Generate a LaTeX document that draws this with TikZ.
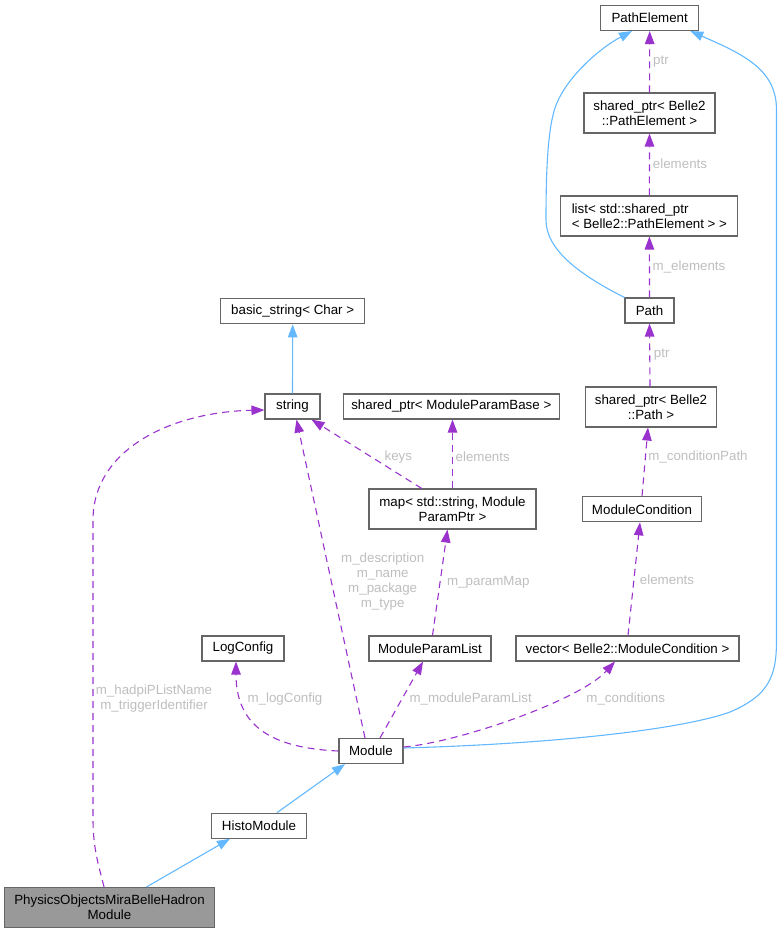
\documentclass[tikz,border=0pt]{standalone}
\usepackage{fontspec}
\setmainfont{Liberation Sans}
\usetikzlibrary{arrows.meta}
\definecolor{inhc}{HTML}{63B8FF}
\definecolor{usec}{HTML}{9A32CD}
\definecolor{nbc}{HTML}{666666}
\definecolor{labc}{HTML}{BEBEBE}
\definecolor{pfill}{HTML}{999999}
\begin{document}
\begin{tikzpicture}[x=1pt,y=-1pt,
  cls/.style={draw=nbc, line width=1.1pt, fill=white, font=\fontsize{13.33}{15}\selectfont, inner sep=0pt, align=center, minimum height=25pt},
  cls2/.style={cls, minimum height=40pt},
  lbl/.style={text=labc, font=\fontsize{13.33}{15}\selectfont, align=center, inner sep=0pt},
  inhedge/.style={draw=inhc, line width=1.1pt, -{Triangle[length=13pt,width=9.5pt]}},
  useedge/.style={draw=usec, line width=1.1pt, dash pattern=on 7pt off 5pt, -{Triangle[length=13pt,width=9.5pt]}}]
\useasboundingbox (0,0) rectangle (782,933);
% nodes
\node[cls, minimum width=98pt] (PE) at (649.7,18) {PathElement};
\node[cls2, minimum width=131pt] (spPE) at (649.5,113) {shared\_ptr< Belle2\\::PathElement >};
\node[cls2, minimum width=177pt, align=left] (list) at (649.4,216) {list< std::shared\_ptr\\< Belle2::PathElement > >};
\node[cls, minimum width=49pt] (Path) at (649.5,310.5) {Path};
\node[cls2, minimum width=131pt] (spPath) at (651,407) {shared\_ptr< Belle2\\::Path >};
\node[cls, minimum width=119pt] (MC) at (642,509.3) {ModuleCondition};
\node[cls, minimum width=223pt] (vec) at (627.5,648.5) {vector< Belle2::ModuleCondition >};
\node[cls, minimum width=144pt] (bstr) at (292.7,311.3) {basic\_string< Char >};
\node[cls, minimum width=55pt] (str) at (292.5,406.5) {string};
\node[cls, minimum width=216pt] (spMPB) at (451.3,406.5) {shared\_ptr< ModuleParamBase >};
\node[cls2, minimum width=167pt] (map) at (452.5,509) {map< std::string, Module\\ParamPtr >};
\node[cls, minimum width=82pt] (LC) at (243,648.5) {LogConfig};
\node[cls, minimum width=122pt] (MPL) at (430,648.5) {ModuleParamList};
\node[cls, minimum width=64pt] (Mod) at (371,751) {Module};
\node[cls, minimum width=95pt] (Histo) at (259,825.7) {HistoModule};
\node[cls2, minimum width=210pt, fill=pfill] (Phys) at (109.5,907.5) {PhysicsObjectsMiraBelleHadron\\Module};
% inheritance edges
\draw[inhedge] (str.north) -- (bstr.south);
\draw[inhedge] (Histo.north) ++(18,0) -- ([xshift=-26pt]Mod.south);
\draw[inhedge] ([xshift=37pt]Phys.north) -- ([xshift=-29pt]Histo.south);
\draw[inhedge] (Path.north west) .. controls (580,275) and (546,250) .. (546,220)
  .. controls (546,180) and (547,132) .. (555,108)
  .. controls (565,78) and (600,48) .. ([xshift=-17.7pt]PE.south);
\draw[inhedge] ([yshift=3pt]Mod.east) .. controls (550,744) and (680,730) .. (730,712)
  .. controls (770,695) and (776.5,675) .. (776.5,640) -- (776.5,110)
  .. controls (776.5,70) and (745,55) .. ([xshift=-9pt]PE.south east);
% usage edges
\draw[useedge] (spPE.north) -- (PE.south);
\draw[useedge] (list.north) -- (spPE.south);
\draw[useedge] (Path.north) -- (list.south);
\draw[useedge] ([xshift=-1pt]spPath.north) -- (Path.south);
\draw[useedge] (MC.north) -- ([xshift=-3pt]spPath.south);
\draw[useedge] ([xshift=0.5pt]vec.north) -- ([xshift=-2pt]MC.south);
\draw[useedge] ([yshift=4pt]Mod.east) .. controls (460,742) and (580,700) .. ([xshift=-12.5pt]vec.south);
\draw[useedge] ([xshift=-30.8pt]map.north) -- ([xshift=19pt]str.south);
\draw[useedge] (map.north) -- (map.north |- spMPB.south);
\draw[useedge] ([xshift=-6pt]Mod.north) -- ([xshift=4pt]str.south);
\draw[useedge] ([xshift=2.5pt]MPL.north) -- ([xshift=-5pt]map.south);
\draw[useedge] ([xshift=9pt]Mod.north) -- ([xshift=-7pt]MPL.south);
\draw[useedge] (Mod.west) .. controls (270,748) and (236,725) .. ([xshift=-7pt]LC.south);
\draw[useedge] ([xshift=-5.5pt]Phys.north) .. controls (100,870) and (93,850) .. (93,820) -- (93,520)
  .. controls (93,450) and (170,412) .. ([yshift=-3.5pt]str.west);
% labels
\node[lbl] (l1) at (661,61.7) {ptr};
\node[lbl] (l2) at (680,163.7) {elements};
\node[lbl] (l3) at (689,266.7) {m\_elements};
\node[lbl] (l4) at (661.7,354.3) {ptr};
\node[lbl] (l5) at (698,456.7) {m\_conditionPath};
\node[lbl] (l6) at (667,580) {elements};
\node[lbl] (l7) at (398.3,456.7) {keys};
\node[lbl] (l8) at (482.7,456.7) {elements};
\node[lbl] (l9) at (382.7,581.5) {m\_description\\m\_name\\m\_package\\m\_type};
\node[lbl] (l10) at (488.3,582) {m\_paramMap};
\node[lbl] (l11) at (154,699) {m\_hadpiPListName\\m\_triggerIdentifier};
\node[lbl] (l12) at (285,699) {m\_logConfig};
\node[lbl] (l13) at (470.7,698.7) {m\_moduleParamList};
\node[lbl] (l14) at (625.7,698.7) {m\_conditions};
\end{tikzpicture}
\end{document}
